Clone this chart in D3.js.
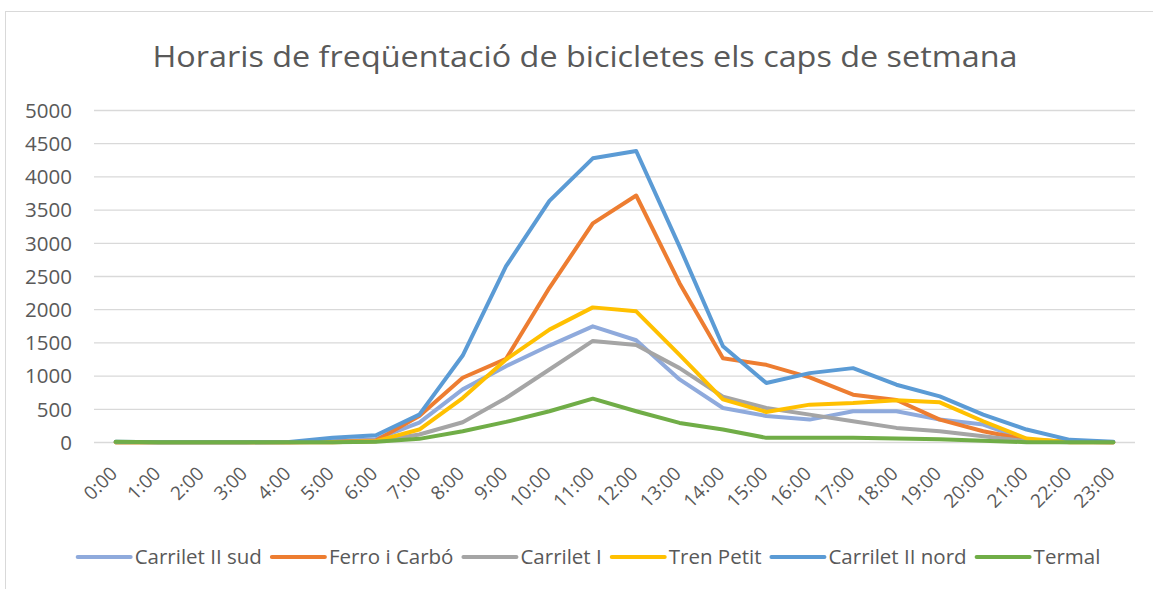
<!DOCTYPE html>
<html>
<head>
<meta charset="utf-8">
<script src="https://d3js.org/d3.v7.min.js"></script>
<style>
    body { margin: 0; background: #fff; }
    .chartFrame { fill: #fff; stroke: #d9d9d9; stroke-width: 1; }
    .gridLine { stroke: #d9d9d9; stroke-width: 1.3; }
    .yLabel, .xLabel, .legendText { fill: #595959; font-family: "Open Sans", sans-serif; }
    .seriesLine { fill: none; stroke-width: 4; stroke-linejoin: round; stroke-linecap: round; }
</style>
</head>
<body>
<script>
//hours on the x axis
var hours = ["0:00","1:00","2:00","3:00","4:00","5:00","6:00","7:00","8:00","9:00","10:00","11:00",
    "12:00","13:00","14:00","15:00","16:00","17:00","18:00","19:00","20:00","21:00","22:00","23:00"];

//y axis ticks
var yTicks = [0, 500, 1000, 1500, 2000, 2500, 3000, 3500, 4000, 4500, 5000];

//series names, in legend order
var seriesNames = ["Carrilet II sud", "Ferro i Carbó", "Carrilet I", "Tren Petit", "Carrilet II nord", "Termal"];

//values, one per hour
var carriletIISud = [5, 2, 2, 2, 2, 20, 50, 300, 800, 1150, 1460, 1750, 1540, 950, 520, 400, 345, 470, 470, 345, 270, 40, 10, 5];
var ferroICarbo = [5, 2, 2, 2, 2, 10, 30, 400, 975, 1260, 2330, 3300, 3720, 2400, 1270, 1170, 980, 720, 640, 345, 170, 40, 10, 5];
var carriletI = [3, 2, 2, 2, 2, 5, 20, 120, 305, 670, 1100, 1530, 1470, 1120, 690, 520, 420, 320, 220, 170, 95, 20, 5, 2];
var trenPetit = [3, 2, 2, 2, 2, 5, 20, 195, 670, 1250, 1700, 2035, 1975, 1320, 650, 460, 570, 595, 635, 605, 320, 60, 5, 2];
var carriletIINord = [10, 5, 5, 5, 8, 70, 110, 420, 1310, 2655, 3640, 4280, 4390, 2950, 1450, 895, 1045, 1120, 870, 695, 420, 195, 40, 10];
var termal = [10, 5, 5, 5, 5, 5, 10, 55, 170, 310, 470, 660, 470, 295, 195, 70, 70, 70, 60, 50, 25, 5, 2, 2];

var seriesColors = ["#8faadc", "#ed7d31", "#a5a5a5", "#ffc000", "#5b9bd5", "#70ad47"];

(function(){

    window.onload = drawChart();

    function drawChart(){

        //svg frame dimensions
        var width = 1153,
            height = 589;

        var svg = d3.select("body")
            .append("svg")
            .attr("width", width)
            .attr("height", height);

        //chart border (runs past the right and bottom edges in the original)
        svg.append("rect")
            .attr("class", "chartFrame")
            .attr("x", 5.5)
            .attr("y", 11.5)
            .attr("width", 1200)
            .attr("height", 620);

        //title, stretched a little to the original's width
        svg.append("text")
            .attr("x", 585)
            .attr("y", 67)
            .attr("text-anchor", "middle")
            .attr("textLength", 865)
            .attr("lengthAdjust", "spacingAndGlyphs")
            .style("font-family", "'Open Sans', sans-serif")
            .style("font-size", "30px")
            .style("fill", "#595959")
            .text("Horaris de freqüentació de bicicletes els caps de setmana");

        //plot area
        var plotLeft = 94,
            plotRight = 1135,
            plotTop = 110.5,
            plotBottom = 442.5;

        var x = d3.scaleBand()
            .domain(hours)
            .range([plotLeft, plotRight]);

        var y = d3.scaleLinear()
            .domain([0, 5000])
            .range([plotBottom, plotTop]);

        //horizontal gridlines
        svg.selectAll(".gridLine")
            .data(yTicks)
            .enter()
            .append("line")
            .attr("class", "gridLine")
            .attr("x1", plotLeft)
            .attr("x2", plotRight)
            .attr("y1", function(d){ return y(d); })
            .attr("y2", function(d){ return y(d); });

        //y labels
        svg.selectAll(".yLabel")
            .data(yTicks)
            .enter()
            .append("text")
            .attr("class", "yLabel")
            .attr("x", 72)
            .attr("y", function(d){ return y(d); })
            .attr("dy", "0.36em")
            .attr("text-anchor", "end")
            .style("font-size", "20.5px")
            .text(function(d){ return d; });

        //x labels, rotated 45 degrees
        svg.selectAll(".xLabel")
            .data(hours)
            .enter()
            .append("text")
            .attr("class", "xLabel")
            .attr("text-anchor", "end")
            .attr("transform", function(d){
                return "translate(" + (x(d) + x.bandwidth() / 2 - 2) + ",470) rotate(-45)";
            })
            .attr("dy", "0.35em")
            .style("font-size", "19px")
            .text(function(d){ return d; });

        //lines
        var seriesData = [carriletIISud, ferroICarbo, carriletI, trenPetit, carriletIINord, termal];

        var line = d3.line()
            .x(function(d, i){ return x(hours[i]) + x.bandwidth() / 2; })
            .y(function(d){ return y(d); });

        svg.selectAll(".seriesLine")
            .data(seriesData)
            .enter()
            .append("path")
            .attr("class", "seriesLine")
            .attr("d", line)
            .style("stroke", function(d, i){ return seriesColors[i]; });

        //legend, measured then centred
        var legend = svg.append("g");
        var cursor = 0;
        seriesNames.forEach(function(name, i){
            var item = legend.append("g").attr("transform", "translate(" + cursor + ",0)");
            item.append("line")
                .attr("x1", 2)
                .attr("x2", 55)
                .attr("y1", 0)
                .attr("y2", 0)
                .style("stroke", seriesColors[i])
                .style("stroke-width", 4)
                .style("stroke-linecap", "round");
            var label = item.append("text")
                .attr("class", "legendText")
                .attr("x", 59)
                .attr("dy", "0.35em")
                .style("font-size", "20.5px")
                .text(name);
            cursor += 59 + label.node().getComputedTextLength() + 8;
        });
        var legendWidth = cursor - 8;
        legend.attr("transform", "translate(" + (588 - legendWidth / 2) + ",557)");
    };

})();
</script>
</body>
</html>
